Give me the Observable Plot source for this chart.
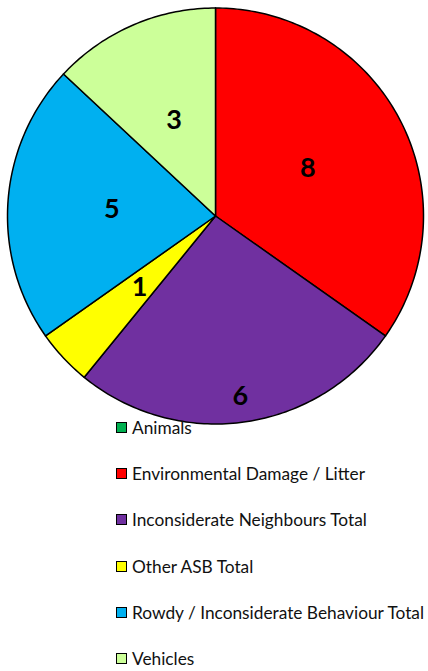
<!DOCTYPE html>
<html>
<head>
<meta charset="utf-8">
<script src="https://cdn.jsdelivr.net/npm/d3@7"></script>
<script src="https://cdn.jsdelivr.net/npm/@observablehq/plot@0.6"></script>
<style>
  html, body { margin: 0; padding: 0; background: #fff; }
  #wrap { position: relative; width: 428px; height: 671px; overflow: hidden; }
  #legend { position: absolute; left: 116px; top: 404px; font-family: Lato, "Open Sans", sans-serif; font-size: 17.3px; color: #111; }
  .item { height: 46.3px; display: flex; align-items: center; white-space: nowrap; }
  .sw { width: 9px; height: 9px; border: 1px solid #000; margin-right: 5px; flex: none; }
</style>
</head>
<body>
<div id="wrap"><div id="chart"></div><div id="legend"></div></div>
<script>
const categories = ["Animals", "Environmental Damage / Litter", "Inconsiderate Neighbours Total", "Other ASB Total", "Rowdy / Inconsiderate Behaviour Total", "Vehicles"];
const values = [0, 8, 6, 1, 5, 3];
const colors = ["#00B050", "#FF0000", "#7030A0", "#FFFF00", "#00B0F0", "#CCFF99"];

const arcs = d3.pie().sort(null).value(d => d)(values);
const polys = [];
const labels = [];
arcs.forEach((a, i) => {
  const cat = categories[i];
  const n = Math.max(2, Math.ceil((a.endAngle - a.startAngle) / (Math.PI / 180)));
  polys.push({cat, x: 0, y: 0});
  for (let k = 0; k <= n; k++) {
    const t = a.startAngle + (a.endAngle - a.startAngle) * k / n;
    polys.push({cat, x: Math.sin(t), y: Math.cos(t)});
  }
  polys.push({cat, x: 0, y: 0});
  if (values[i] > 0) {
    const mid = (a.startAngle + a.endAngle) / 2;
    const r = cat === "Inconsiderate Neighbours Total" ? 0.875 : 0.5;
    labels.push({cat, value: values[i], x: r * Math.sin(mid), y: r * Math.cos(mid)});
  }
});

const chart = Plot.plot({
  width: 428,
  height: 426,
  marginLeft: 7,
  marginRight: 5,
  marginTop: 7.5,
  marginBottom: 2.5,
  x: {domain: [-1, 1], axis: null},
  y: {domain: [-1, 1], axis: null},
  color: {domain: categories, range: colors},
  style: {background: "transparent", overflow: "visible"},
  marks: [
    Plot.line(polys, {x: "x", y: "y", z: "cat", fill: "cat", stroke: "#000", strokeWidth: 1.5, strokeLinejoin: "round"}),
    Plot.text(labels, {x: "x", y: "y", text: d => String(d.value), fill: "#000", fontSize: 27, fontWeight: "bold", fontFamily: "Lato, 'Open Sans', sans-serif"})
  ]
});
document.getElementById("chart").appendChild(chart);

const legend = document.getElementById("legend");
categories.forEach((c, i) => {
  const item = document.createElement("div");
  item.className = "item";
  const sw = document.createElement("span");
  sw.className = "sw";
  sw.style.background = colors[i];
  const tx = document.createElement("span");
  tx.textContent = c;
  item.appendChild(sw);
  item.appendChild(tx);
  legend.appendChild(item);
});
</script>
</body>
</html>
